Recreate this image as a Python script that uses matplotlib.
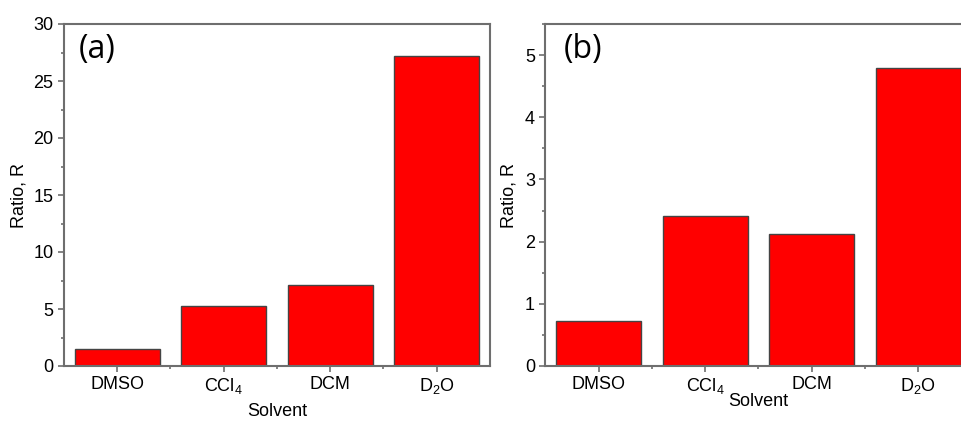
import matplotlib
matplotlib.use("Agg")
import matplotlib.pyplot as plt
from matplotlib.ticker import MultipleLocator, FixedLocator

plt.rcParams['font.family'] = ['Liberation Sans', 'DejaVu Sans']
plt.rcParams['mathtext.default'] = 'regular'

# Data
solvents = ['DMSO', 'CCl$_4$', 'DCM', 'D$_2$O']
ratio_a = [1.5, 5.3, 7.1, 27.2]
ratio_b = [0.73, 2.42, 2.13, 4.80]

W, H = 962, 421
fig = plt.figure(figsize=(W / 100, H / 100), dpi=100)

spine_col = '#6e6e6e'
bar_col = '#ff0000'
edge_col = '#444444'
fs = 13


def make_panel(rect, values, ymax, major, minor, tag, tag_x, xlabel_y, ylabel_x):
    ax = fig.add_axes(rect)
    x = range(len(values))
    ax.bar(x, values, width=0.8, color=bar_col, edgecolor=edge_col, linewidth=1.0)
    ax.set_xlim(-0.5, len(values) - 0.5)
    ax.set_ylim(0, ymax)
    ax.set_xticks(list(x))
    ax.set_xticklabels(solvents, fontsize=fs)
    ax.xaxis.set_minor_locator(FixedLocator([i + 0.5 for i in range(len(values) - 1)]))
    ax.yaxis.set_major_locator(MultipleLocator(major))
    ax.yaxis.set_minor_locator(MultipleLocator(minor))
    ax.tick_params(axis='both', which='major', direction='out', length=4.5,
                   width=1.2, color=spine_col, labelsize=fs, pad=3)
    ax.tick_params(axis='both', which='minor', direction='out', length=2.5,
                   width=1.2, color=spine_col)
    for s in ax.spines.values():
        s.set_color(spine_col)
        s.set_linewidth(1.5)
    ax.set_ylabel('Ratio, R', fontsize=fs, va='center')
    ax.yaxis.set_label_coords(ylabel_x, 0.5)
    ax.set_xlabel('Solvent', fontsize=fs, va='center')
    ax.xaxis.set_label_coords(0.5, xlabel_y)
    ax.text(tag_x, 0.924, tag, transform=ax.transAxes, fontsize=23,
            family=['Open Sans', 'DejaVu Sans'], va='center', ha='left')
    return ax


bottom = (H - 366) / H
height = (366 - 24) / H

ax_a = make_panel([64 / W, bottom, 426 / W, height], ratio_a, 30, 5, 2.5,
                  '(a)', 0.035, -0.1345, -0.106)
ax_b = make_panel([545.5 / W, bottom, 426 / W, height], ratio_b, 5.5, 1, 0.5,
                  '(b)', 0.043, -0.105, -0.086)

fig.savefig('out.png', dpi=100)
